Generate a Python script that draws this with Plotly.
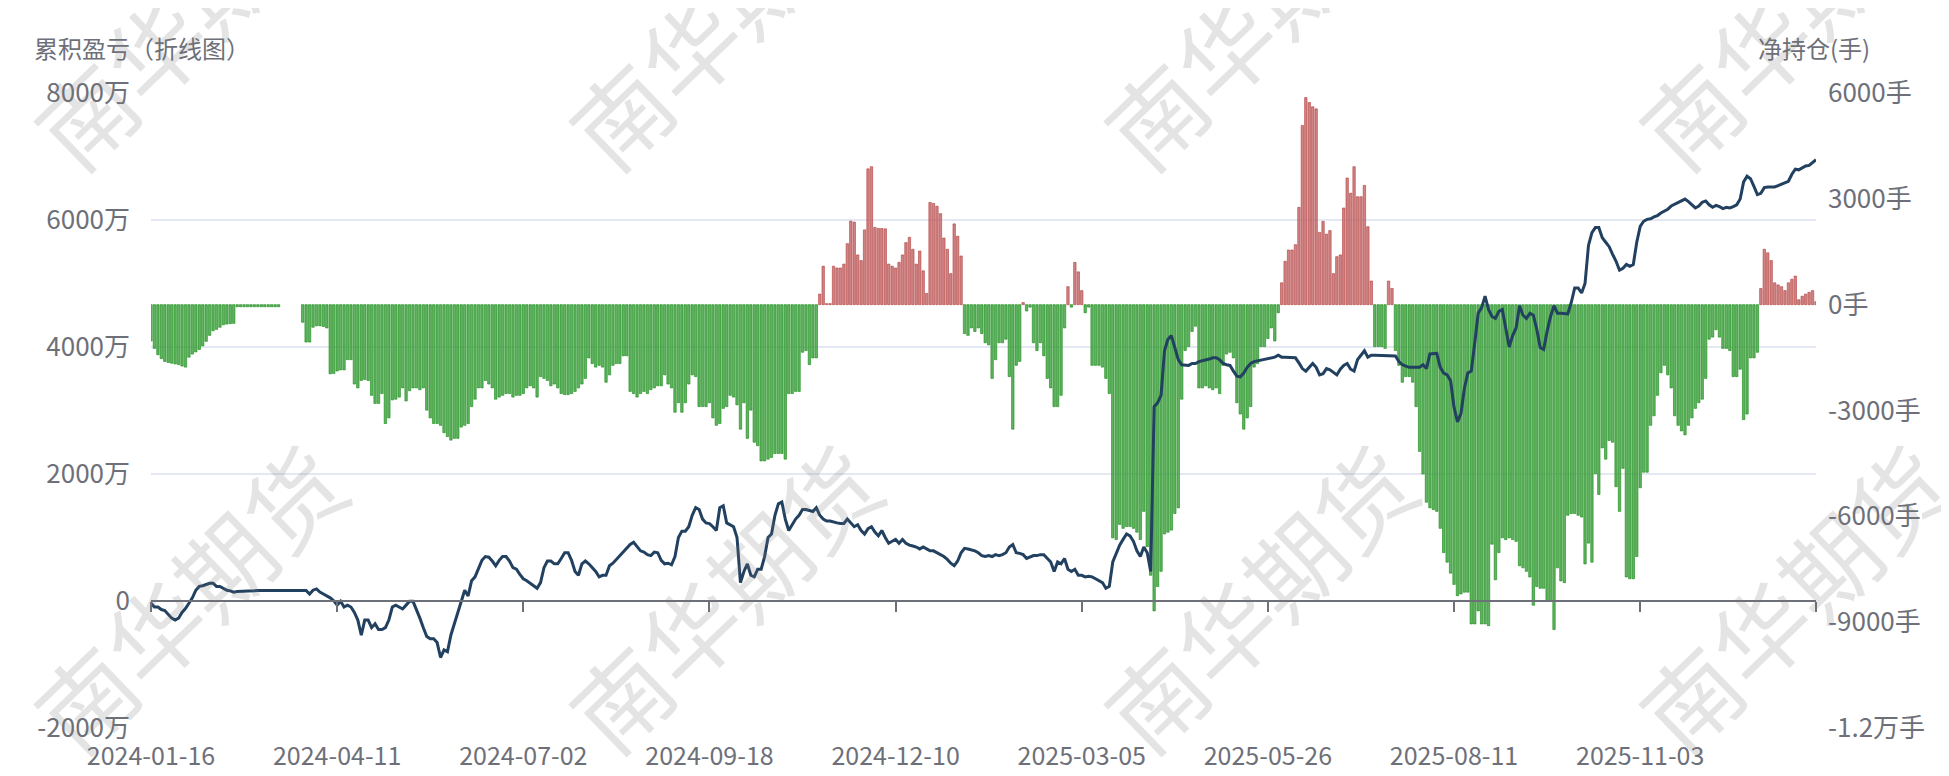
import pandas as pd
import plotly.graph_objects as go

# ---------------- data ----------------
exchange_holidays = [
    '2024-02-09', '2024-02-12', '2024-02-13', '2024-02-14', '2024-02-15', '2024-02-16',
    '2024-04-04', '2024-04-05', '2024-05-01', '2024-05-02', '2024-05-03', '2024-06-10',
    '2024-09-16', '2024-09-17', '2024-10-01', '2024-10-02', '2024-10-03', '2024-10-04', '2024-10-07',
    '2025-01-01', '2025-01-28', '2025-01-29', '2025-01-30', '2025-01-31', '2025-02-03', '2025-02-04',
    '2025-04-04', '2025-05-01', '2025-05-02', '2025-05-05', '2025-06-02',
    '2025-10-01', '2025-10-02', '2025-10-03', '2025-10-06', '2025-10-07', '2025-10-08',
    '2026-01-01', '2026-01-02',
]
dates = pd.bdate_range('2024-01-16', '2026-01-15', freq='C',
                       holidays=exchange_holidays).strftime('%Y-%m-%d').tolist()

tick_labels = ['2024-01-16', '2024-04-11', '2024-07-02', '2024-09-18', '2024-12-10',
               '2025-03-05', '2025-05-26', '2025-08-11', '2025-11-03']

# net position (手), one value per trading day
net_position = [
    -1030, -1240, -1420, -1530, -1610, -1640, -1660, -1680, -1700, -1740,
    -1770, -1490, -1400, -1340, -1270, -1170, -1040, -870, -740, -700,
    -640, -570, -550, -540, -530, -60, -60, -60, -60, -60,
    -60, -60, -60, -60, -60, -60, -60, -60, None, None,
    None, None, None, None, -500, -1060, -1060, -640, -600, -600,
    -620, -660, -1960, -1950, -1880, -1850, -1850, -1560, -1560, -2250,
    -2360, -2150, -2120, -2150, -2570, -2800, -2800, -2520, -3370, -3210,
    -2700, -2680, -2620, -2360, -2730, -2440, -2360, -2360, -2410, -2360,
    -2990, -3210, -3370, -3370, -3420, -3630, -3740, -3840, -3790, -3790,
    -3470, -3420, -3370, -2890, -2680, -2360, -2360, -2150, -2250, -2360,
    -2680, -2620, -2570, -2520, -2520, -2620, -2570, -2570, -2520, -2360,
    -2300, -2360, -2620, -2040, -2090, -2150, -2300, -2250, -2360, -2520,
    -2550, -2550, -2520, -2460, -2360, -2250, -2090, -1510, -1670, -1770,
    -1720, -1770, -2200, -1990, -1720, -1670, -1670, -1450, -1450, -2460,
    -2520, -2620, -2520, -2460, -2520, -2410, -2360, -2300, -2300, -1990,
    -2250, -2360, -3050, -2780, -3050, -2780, -2250, -1990, -2040, -2890,
    -2890, -2890, -2780, -3210, -3420, -3370, -2940, -2890, -2570, -2620,
    -2840, -3530, -2780, -3790, -2990, -3900, -4000, -4430, -4430, -4380,
    -4330, -4220, -4220, -4220, -4380, -2520, -2520, -2460, -2460, -1350,
    -1300, -1700, -1510, -1510, 300, 1090, 30, 30, 1090, 1040,
    1040, 1150, 1730, 2370, 2340, 1410, 1250, 2120, 3850, 3910,
    2190, 2160, 2160, 2150, 1150, 1090, 1040, 1200, 1410, 1760,
    1910, 1570, 1150, 1520, 960, 320, 2900, 2870, 2790, 2580,
    1890, 1570, 880, 2290, 1940, 1380, -820, -870, -660, -760,
    -660, -820, -1080, -1140, -2090, -1560, -1080, -1080, -980, -2040,
    -3530, -1720, -1610, 60, -180, -70, -1080, -1300, -1080, -1450,
    -2090, -2360, -2890, -2890, -2570, -660, 510, -70, 1200, 930,
    400, -230, -70, -1720, -1720, -1720, -1770, -2090, -2520, -6610,
    -6660, -6230, -6340, -6290, -6290, -6340, -6450, -6660, -5860, -6860,
    -7670, -8680, -7990, -7560, -6500, -6450, -6390, -5920, -5760, -2680,
    -1300, -1190, -760, -610, -2360, -2360, -2300, -2360, -2410, -2360,
    -2520, -1720, -1400, -1350, -1510, -2780, -3100, -3530, -3210, -2890,
    -1770, -1670, -1190, -1190, -960, -660, -1030, -230, 620, 1230,
    1550, 1550, 1700, 2760, 5080, 5870, 5730, 5610, 5550, 2050,
    2360, 2000, 2100, 880, 1360, 1410, 2740, 3590, 3160, 3910,
    3060, 3060, 3380, 2210, 670, -1190, -1190, -1190, -1240, 670,
    460, -1300, -1720, -2200, -2040, -2040, -2200, -2890, -4160, -4800,
    -5600, -5760, -5810, -5860, -6340, -7030, -7300, -7610, -7930, -8250,
    -8200, -8150, -8150, -9050, -9050, -8680, -9050, -9050, -9100, -6790,
    -7800, -7030, -6610, -6660, -6610, -6660, -6710, -7400, -7460, -7560,
    -7720, -8520, -7990, -8040, -8040, -8410, -8410, -9210, -7460, -7830,
    -7880, -5970, -5920, -5920, -5970, -6020, -7350, -6760, -7300, -4790,
    -5380, -4060, -4380, -3850, -3900, -5160, -5860, -4640, -7720, -7770,
    -7770, -7140, -5190, -4750, -4750, -3420, -3150, -2570, -1930, -1720,
    -1990, -2360, -3150, -3420, -3580, -3690, -3420, -3210, -2940, -2780,
    -2680, -2090, -980, -920, -710, -920, -1240, -1240, -1300, -2040,
    -2040, -1830, -3260, -3100, -1510, -1510, -1350, 460, 1570, 1470,
    1250, 620, 560, 510, 400, 620, 720, 810, 140, 240,
    300, 350, 400, 85,
]

# cumulative profit and loss (万), one value per trading day
cum_pnl = [
    -35, -95, -95, -135, -150, -210, -270, -300, -270, -180,
    -120, -35, 50, 170, 230, 240, 260, 280, 280, 230,
    230, 200, 170, 160, 140, 150, 150, 155, 155, 160,
    160, 165, 165, 165, 165, 165, 165, 165, 165, 165,
    165, 165, 165, 165, 165, 165, 110, 170, 190, 140,
    110, 80, 50, 5, -65, -5, -95, -65, -95, -180,
    -300, -540, -300, -300, -420, -360, -450, -450, -420, -300,
    -95, -65, -95, -125, -65, -5, -5, -125, -270, -420,
    -560, -595, -595, -655, -890, -770, -800, -535, -360, -180,
    25, 170, 80, 320, 380, 500, 640, 700, 690, 630,
    555, 640, 700, 700, 630, 525, 500, 420, 350, 320,
    280, 230, 200, 290, 525, 630, 630, 585, 585, 670,
    760, 760, 640, 465, 405, 585, 630, 585, 525, 465,
    380, 405, 405, 555, 595, 655, 700, 760, 830, 890,
    925, 850, 790, 770, 730, 715, 770, 760, 640, 585,
    595, 570, 700, 1000, 1100, 1100, 1170, 1350, 1470, 1440,
    1290, 1230, 1220, 1170, 1110, 1470, 1500, 1230, 1200, 1170,
    1000, 290, 465, 585, 405, 380, 500, 500, 700, 1000,
    1055, 1350, 1530, 1560, 1290, 1110, 1200, 1290, 1350, 1440,
    1440, 1420, 1410, 1470, 1350, 1290, 1260, 1260, 1240, 1230,
    1220, 1220, 1290, 1230, 1170, 1200, 1110, 1055, 1140, 1170,
    1085, 1025, 1110, 1000, 910, 940, 970, 910, 970, 910,
    880, 865, 850, 820, 850, 820, 790, 790, 760, 730,
    700, 655, 595, 555, 630, 760, 830, 820, 810, 790,
    760, 715, 700, 715, 700, 730, 715, 730, 760, 850,
    890, 760, 750, 730, 670, 690, 715, 715, 730, 730,
    670, 615, 465, 615, 585, 670, 500, 465, 500, 405,
    405, 380, 390, 380, 350, 320, 290, 200, 230, 615,
    760, 880, 970, 1055, 1025, 940, 790, 700, 850, 760,
    465, 3060, 3120, 3240, 3940, 4120, 4180, 4000, 3800, 3720,
    3710, 3710, 3740, 3740, 3770, 3780, 3800, 3810, 3830, 3830,
    3800, 3740, 3720, 3710, 3620, 3540, 3530, 3590, 3680, 3740,
    3770, 3780, 3790, 3800, 3810, 3830, 3840, 3870, 3840, 3840,
    3840, 3840, 3830, 3750, 3660, 3620, 3680, 3740, 3680, 3560,
    3580, 3660, 3640, 3600, 3560, 3650, 3710, 3740, 3650, 3620,
    3800, 3870, 3940, 3840, 3870, 3870, 3870, 3870, 3870, 3870,
    3870, 3860, 3770, 3720, 3700, 3680, 3680, 3680, 3680, 3720,
    3660, 3890, 3900, 3900, 3680, 3590, 3560, 3470, 3050, 2820,
    2950, 3350, 3590, 3620, 4060, 4530, 4620, 4800, 4590, 4480,
    4450, 4560, 4590, 4300, 4000, 4180, 4300, 4650, 4500, 4450,
    4530, 4500, 4280, 3990, 3960, 4250, 4480, 4650, 4530, 4530,
    4530, 4520, 4700, 4930, 4930, 4850, 5000, 5600, 5800, 5880,
    5880, 5720, 5650, 5580, 5460, 5350, 5210, 5240, 5300, 5270,
    5300, 5650, 5900, 5980, 6010, 6020, 6050, 6070, 6110, 6140,
    6170, 6220, 6250, 6280, 6310, 6330, 6290, 6240, 6190, 6220,
    6280, 6300, 6240, 6200, 6230, 6210, 6180, 6200, 6190, 6210,
    6240, 6330, 6600, 6690, 6650, 6530, 6400, 6420, 6510, 6520,
    6520, 6520, 6540, 6560, 6580, 6610, 6720, 6800, 6790, 6820,
    6850, 6860, 6900, 6950,
]

pnl_ticks = [-2000, 0, 2000, 4000, 6000, 8000]
pnl_tick_text = ['-2000万', '0', '2000万', '4000万', '6000万', '8000万']
pos_ticks = [-12000, -9000, -6000, -3000, 0, 3000, 6000]
pos_tick_text = ['-1.2万手', '-9000手', '-6000手', '-3000手', '0手', '3000手', '6000手']

n = min(len(dates), len(net_position), len(cum_pnl))
dates = dates[:n]
net_position = net_position[:n]
cum_pnl = cum_pnl[:n]

# ---------------- styling ----------------
FONT = 'Noto Sans CJK SC, Noto Sans, sans-serif'
LABEL_C = '#6E7079'
fill_c = ['rgba(200,110,110,0.85)' if (v is not None and v > 0) else 'rgba(80,170,80,0.9)'
          for v in net_position]
edge_c = ['#b23c3c' if (v is not None and v > 0) else '#128a12' for v in net_position]

fig = go.Figure()
fig.add_trace(go.Bar(
    x=dates, y=net_position, xaxis='x', yaxis='y',
    marker=dict(color=fill_c, line=dict(color=edge_c, width=0.6)),
    name='净持仓', showlegend=False,
))
fig.add_trace(go.Scatter(
    x=dates, y=[None] * n, xaxis='x2', yaxis='y', mode='lines',
    hoverinfo='skip', showlegend=False,
))
fig.add_trace(go.Scatter(
    x=dates, y=cum_pnl, xaxis='x', yaxis='y2', mode='lines',
    line=dict(color='#22405f', width=3), name='累积盈亏', showlegend=False,
))

# plot area in pixels: x 143..1808, y 85..734
L, R, T, B = 143, 1808, 85, 734
W, H = 1949, 776


def px(xp):
    return (xp - L) / (R - L)


def py(yp):
    return (B - yp) / (B - T)


annotations = [
    dict(text='累积盈亏（折线图）', x=px(24), y=py(38), xref='paper', yref='paper',
         xanchor='left', yanchor='middle', showarrow=False,
         font=dict(size=24, color=LABEL_C, family=FONT)),
    dict(text='净持仓(手)', x=px(1864), y=py(38), xref='paper', yref='paper',
         xanchor='right', yanchor='middle', showarrow=False,
         font=dict(size=24, color=LABEL_C, family=FONT)),
]
for cx in [180, 715, 1250, 1785]:
    for cy in [600, 4]:
        annotations.append(dict(
            text='南华期货', x=px(cx), y=py(cy), xref='paper', yref='paper',
            xanchor='center', yanchor='middle', showarrow=False, textangle=-44,
            font=dict(size=96, color='rgba(120,120,120,0.2)', family=FONT)))

zero_pos = (0 - pnl_ticks[0]) / (pnl_ticks[-1] - pnl_ticks[0])

fig.update_layout(
    width=W, height=H,
    margin=dict(l=L, r=W - R, t=T, b=H - B, pad=0),
    paper_bgcolor='white', plot_bgcolor='white',
    bargap=0.3,
    showlegend=False,
    font=dict(family=FONT, color=LABEL_C, size=26),
    xaxis=dict(type='category', range=[0, n - 1], tickmode='array',
               tickvals=tick_labels, ticktext=tick_labels,
               showgrid=False, showline=False, zeroline=False, ticks='',
               tickfont=dict(size=25, color=LABEL_C, family=FONT),
               ticklabelstandoff=11),
    xaxis2=dict(type='category', overlaying='x', anchor='free', position=zero_pos,
                range=[0, n - 1], tickmode='array', tickvals=tick_labels + [dates[-1]],
                showticklabels=False, showgrid=False, zeroline=False,
                showline=True, linecolor=LABEL_C, linewidth=1.5,
                ticks='outside', ticklen=10, tickwidth=1.5, tickcolor=LABEL_C),
    yaxis=dict(side='right', range=[pos_ticks[0], pos_ticks[-1]], tickmode='array',
               tickvals=pos_ticks, ticktext=pos_tick_text, showgrid=False,
               zeroline=False, showline=False, ticks='',
               tickfont=dict(size=26, color=LABEL_C, family=FONT),
               ticklabelstandoff=11),
    yaxis2=dict(side='left', overlaying='y', range=[pnl_ticks[0], pnl_ticks[-1]],
                tickmode='array', tickvals=pnl_ticks, ticktext=pnl_tick_text,
                showgrid=True, gridcolor='#E3E8F2', gridwidth=1.5,
                zeroline=False, showline=False, ticks='',
                tickfont=dict(size=26, color=LABEL_C, family=FONT),
                ticklabelstandoff=20),
    annotations=annotations,
)

fig.write_html('out.html')
